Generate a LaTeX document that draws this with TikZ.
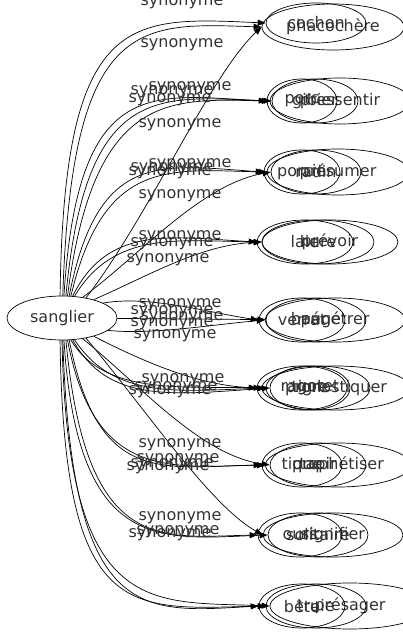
\documentclass[tikz,border=0pt]{standalone}
\usepackage{fontspec}
\setmainfont{DejaVu Sans}
\usetikzlibrary{arrows.meta,shapes.geometric}
\begin{document}
\begin{tikzpicture}[x=1pt,y=1pt,
  tn/.style={draw,ellipse,line width=0.7pt,inner sep=0pt,minimum height=44pt,font=\fontsize{16}{16}\selectfont,text=black!80},
  lbl/.style={font=\fontsize{16}{16}\selectfont,text=black!80,inner sep=0pt},
  e/.style={draw,line width=0.7pt,-{Triangle[length=8pt,width=6pt]}}]
\useasboundingbox (0,0) rectangle (403,635);
\node[tn,minimum width=110pt] (s) at (62,317) {sanglier};
% cluster 1
\node[tn,minimum width=142pt,minimum height=46pt] (phaco) at (333,608) {phacochère};
\node[tn,minimum width=100pt,minimum height=40pt] (cochon) at (316,612) {cochon};
% cluster 2
\node[tn,minimum width=140pt,minimum height=46pt] (pressentir) at (340,534) {pressentir};
\node[tn,minimum width=86pt] (gibier) at (315,534) {gibier};
\node[tn,minimum width=70pt] (porc) at (302,534) {porc};
% cluster 3
\node[tn,minimum width=142pt,minimum height=46pt] (presumer) at (338,463) {présumer};
\node[tn,minimum width=90pt] (radin) at (316,463) {radin};
\node[tn,minimum width=76pt] (porcin) at (302,463) {porcin};
% cluster 4
\node[tn,minimum width=136pt] (prevoir) at (330,393) {prévoir};
\node[tn,minimum width=112pt] (hure) at (318,393) {hure};
\node[tn,minimum width=96pt] (laie) at (305,393) {laie};
% cluster 5
\node[tn,minimum width=140pt] (penetrer) at (335,315) {pénétrer};
\node[tn,minimum width=100pt] (bauge) at (316,315) {bauge};
\node[tn,minimum width=86pt] (verrat) at (302,315) {verrat};
% cluster 6
\node[tn,minimum width=148pt] (pronostiquer) at (336,247) {pronostiquer};
\node[tn,minimum width=104pt] (goret) at (318,247) {goret};
\node[tn,minimum width=80pt] (tigre) at (310,247) {tigre};
\node[tn,minimum width=90pt] (ragot) at (302,247) {ragot};
% cluster 7
\node[tn,minimum width=145pt] (prophetiser) at (338,170) {prophétiser};
\node[tn,minimum width=96pt] (tapir) at (318,170) {tapir};
\node[tn,minimum width=80pt] (tique) at (302,170) {tique};
% cluster 8
\node[tn,minimum width=140pt] (signifier) at (333,100) {signifier};
\node[tn,minimum width=100pt] (solitaire) at (318,100) {solitaire};
\node[tn,minimum width=84pt] (ours) at (300,100) {ours};
% cluster 9
\node[tn,minimum width=160pt,minimum height=46pt] (presager) at (350,29) {présager};
\node[tn,minimum width=100pt] (truie) at (316,29) {truie};
\node[tn,minimum width=86pt] (bete) at (302,29) {bête};
% edges up
\draw[e] (s.95) .. controls (64,625) and (130,618) .. (cochon.west);
\draw[e] (s.88) .. controls (72,620) and (140,612) .. (phaco.west);
\draw[e] (s.40) .. controls (150,420) and (210,560) .. (phaco.west);
\draw[e] (s.85) .. controls (78,560) and (150,540) .. (porc.west);
\draw[e] (s.80) .. controls (86,555) and (160,538) .. (gibier.west);
\draw[e] (s.76) .. controls (94,545) and (170,536) .. (pressentir.west);
\draw[e] (s.72) .. controls (98,485) and (160,470) .. (porcin.west);
\draw[e] (s.45) .. controls (140,380) and (200,450) .. (radin.west);
\draw[e] (s.68) .. controls (104,478) and (170,465) .. (presumer.west);
\draw[e] (s.64) .. controls (108,410) and (170,398) .. (laie.west);
\draw[e] (s.60) .. controls (114,405) and (180,394) .. (hure.west);
\draw[e] (s.30) .. controls (150,360) and (200,390) .. (prevoir.west);
% middle
\draw[e] (s.20) .. controls (150,340) and (210,322) .. (verrat.west);
\draw[e] (s) -- (bauge);
\draw[e] (s.-15) .. controls (150,300) and (210,310) .. (penetrer.west);
% down
\draw[e] (s.-30) .. controls (150,270) and (200,250) .. (ragot.west);
\draw[e] (s.-60) .. controls (114,235) and (180,244) .. (goret.west);
\draw[e] (s.-64) .. controls (108,232) and (170,240) .. (tigre.west);
\draw[e] (s.-68) .. controls (104,240) and (180,249) .. (pronostiquer.west);
\draw[e] (s.-72) .. controls (98,150) and (160,168) .. (tique.west);
\draw[e] (s.-45) .. controls (140,250) and (200,180) .. (tapir.west);
\draw[e] (s.-76) .. controls (94,155) and (170,168) .. (prophetiser.west);
\draw[e] (s.-80) .. controls (86,80) and (160,98) .. (ours.west);
\draw[e] (s.-85) .. controls (78,80) and (160,96) .. (solitaire.west);
\draw[e] (s.-40) .. controls (150,220) and (210,130) .. (signifier.west);
\draw[e] (s.-88) .. controls (72,12) and (140,22) .. (bete.west);
\draw[e] (s.-95) .. controls (64,10) and (130,26) .. (truie.west);
\draw[e] (s.-90) .. controls (68,15) and (150,34) .. (presager.west);
% labels
\node[lbl] (l1) at (182,632) {synonyme};
\node[lbl] (l2) at (182,590) {synonyme};
\node[lbl] (l3) at (190,547) {synonyme};
\node[lbl] (l4) at (172,543) {synonyme};
\node[lbl] (l5) at (170,535) {synonyme};
\node[lbl] (l6) at (180,510) {synonyme};
\node[lbl] (l7) at (190,470) {synonyme};
\node[lbl] (l8) at (172,466) {synonyme};
\node[lbl] (l9) at (170,462) {synonyme};
\node[lbl] (l10) at (180,439) {synonyme};
\node[lbl] (l11) at (180,398) {synonyme};
\node[lbl] (l12) at (172,391) {synonyme};
\node[lbl] (l13) at (168,375) {synonyme};
\node[lbl] (l14) at (180,330) {synonyme};
\node[lbl] (l15) at (172,323) {synonyme};
\node[lbl] (l16) at (182,317) {synonyme};
\node[lbl] (l17) at (172,311) {synonyme};
\node[lbl] (l18) at (175,299) {synonyme};
\node[lbl] (l19) at (183,255) {synonyme};
\node[lbl] (l20) at (176,247) {synonyme};
\node[lbl] (l21) at (170,243) {synonyme};
\node[lbl] (l22) at (180,190) {synonyme};
\node[lbl] (l23) at (178,175) {synonyme};
\node[lbl] (l24) at (172,170) {synonyme};
\node[lbl] (l25) at (168,167) {synonyme};
\node[lbl] (l26) at (180,117) {synonyme};
\node[lbl] (l27) at (178,103) {synonyme};
\node[lbl] (l28) at (170,100) {synonyme};
\end{tikzpicture}
\end{document}
